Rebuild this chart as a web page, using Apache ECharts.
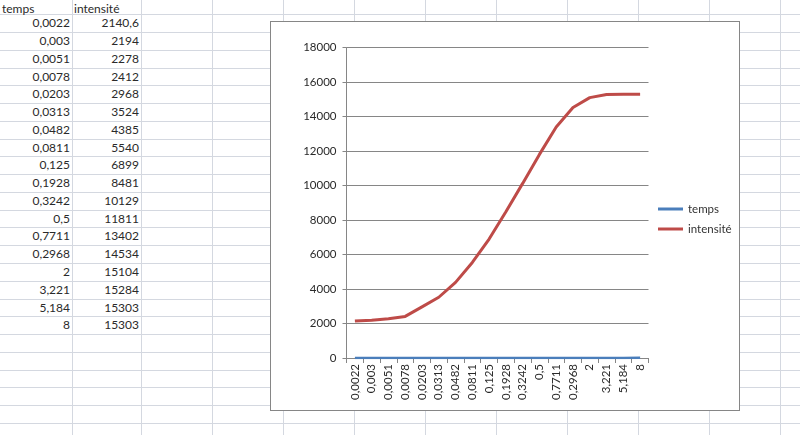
<!DOCTYPE html>
<html>
<head>
<meta charset="utf-8">
<script src="https://cdn.jsdelivr.net/npm/echarts@6/dist/echarts.min.js"></script>
<style>
  html, body { margin: 0; padding: 0; background: #fff; width: 800px; height: 435px; overflow: hidden; font-family: Lato, "Open Sans", sans-serif; }
  #sheet { position: absolute; left: 0; top: 0; width: 800px; height: 435px; }
  .vl { position: absolute; top: 0; width: 1px; height: 435px; background: #d4d8e0; }
  .hl { position: absolute; left: 0; height: 1px; width: 800px; background: #d4d8e0; }
  .cell { position: absolute; font-size: 12px; color: #2a2a2a; line-height: 18px; white-space: nowrap; }
  #chart { position: absolute; left: 270px; top: 21px; width: 470px; height: 390px; box-sizing: border-box; border: 1px solid #868686; background: #fff; }
</style>
</head>
<body>
<div id="sheet"></div>
<div id="chart"></div>
<script>
// ---- data ----
var headers = ["temps", "intensité"];
var tempsLabels = ["0,0022", "0,003", "0,0051", "0,0078", "0,0203", "0,0313", "0,0482", "0,0811", "0,125", "0,1928", "0,3242", "0,5", "0,7711", "0,2968", "2", "3,221", "5,184", "8"];
var tempsValues = [0.0022, 0.003, 0.0051, 0.0078, 0.0203, 0.0313, 0.0482, 0.0811, 0.125, 0.1928, 0.3242, 0.5, 0.7711, 0.2968, 2, 3.221, 5.184, 8];
var intensiteLabels = ["2140,6", "2194", "2278", "2412", "2968", "3524", "4385", "5540", "6899", "8481", "10129", "11811", "13402", "14534", "15104", "15284", "15303", "15303"];
var intensiteValues = [2140.6, 2194, 2278, 2412, 2968, 3524, 4385, 5540, 6899, 8481, 10129, 11811, 13402, 14534, 15104, 15284, 15303, 15303];

// ---- spreadsheet background ----
var sheet = document.getElementById('sheet');
var colLines = [72, 141, 212, 283, 354, 425, 496, 567, 638, 709, 780];
var rowTop = 14.2, rowH = 17.77;
colLines.forEach(function (x) {
  var d = document.createElement('div'); d.className = 'vl'; d.style.left = x + 'px'; sheet.appendChild(d);
});
for (var k = 0; k < 24; k++) {
  var d = document.createElement('div'); d.className = 'hl';
  d.style.top = Math.round(rowTop + rowH * k) + 'px'; sheet.appendChild(d);
}
function addCell(text, left, right, top, align) {
  var c = document.createElement('div'); c.className = 'cell';
  c.textContent = text; c.style.top = top + 'px';
  if (align === 'right') { c.style.right = (800 - right) + 'px'; } else { c.style.left = left + 'px'; }
  sheet.appendChild(c);
}
addCell(headers[0], 2, 0, 0, 'left');
addCell(headers[1], 74, 0, 0, 'left');
for (var i = 0; i < tempsLabels.length; i++) {
  var t = rowTop + rowH * i;
  addCell(tempsLabels[i], 0, 70, t, 'right');
  addCell(intensiteLabels[i], 0, 139, t, 'right');
}

// ---- chart ----
var chart = echarts.init(document.getElementById('chart'), null, { renderer: 'canvas' });
var txt = '#2a2a2a';
chart.setOption({
  animation: false,
  textStyle: { fontFamily: 'Lato, "Open Sans", sans-serif' },
  grid: { left: 75.5, top: 25.7, right: 90.5, bottom: 52 },
  legend: {
    orient: 'vertical', left: 382, top: 176, itemGap: 8,
    itemWidth: 25, itemHeight: 3, icon: 'rect',
    textStyle: { fontSize: 11.5, color: '#333' },
    data: [headers[0], headers[1]]
  },
  xAxis: {
    type: 'category', data: tempsLabels, boundaryGap: true,
    axisLine: { lineStyle: { color: '#868686', width: 1 } },
    axisTick: { show: true, length: 5, lineStyle: { color: '#868686' }, interval: 0 },
    axisLabel: { rotate: 90, interval: 0, fontSize: 11.5, color: txt, margin: 6 },
    splitLine: { show: false }
  },
  yAxis: {
    type: 'value', min: 0, max: 18000, interval: 2000,
    axisLine: { show: true, lineStyle: { color: '#868686', width: 1 } },
    axisTick: { show: true, length: 4, lineStyle: { color: '#868686' } },
    axisLabel: { fontSize: 11.5, color: txt, margin: 10, formatter: function (v) { return String(v); } },
    splitLine: { show: true, lineStyle: { color: '#868686', width: 1 } }
  },
  series: [
    { name: headers[0], type: 'line', data: tempsValues, symbol: 'none', z: 5,
      lineStyle: { color: '#4A7EBB', width: 2.5 }, itemStyle: { color: '#4A7EBB' } },
    { name: headers[1], type: 'line', data: intensiteValues, symbol: 'none', z: 4,
      lineStyle: { color: '#BE4B48', width: 3 }, itemStyle: { color: '#BE4B48' } }
  ]
});
</script>
</body>
</html>
